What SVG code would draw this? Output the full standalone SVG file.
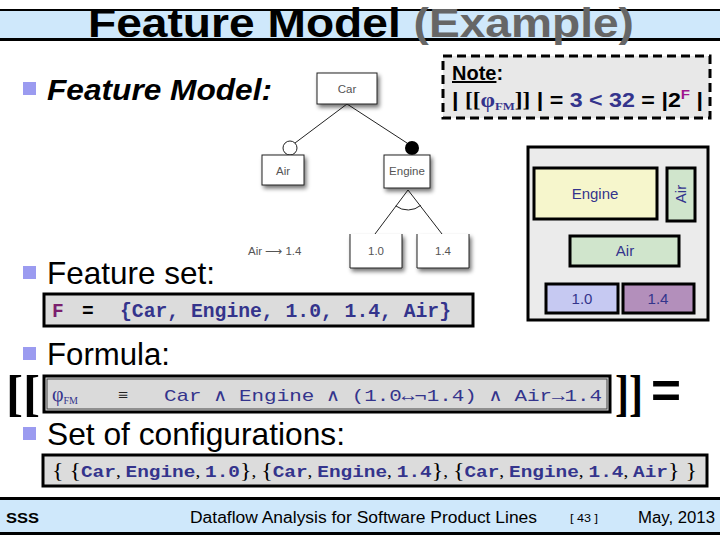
<svg xmlns="http://www.w3.org/2000/svg" width="720" height="540" viewBox="0 0 720 540">
<defs>
<style>
.sans{font-family:"Liberation Sans",Arial,sans-serif}
.mono{font-family:"Liberation Mono","Courier New",monospace;font-weight:bold}
.serif{font-family:"Liberation Serif","Times New Roman",serif}
.navy{fill:#34348c}
.bullet{fill:#9b9bf0}
.fmbox{fill:#ffffff;stroke:#222;stroke-width:1}
.fmtxt{font-family:"Liberation Sans",Arial,sans-serif;font-size:11.5px;fill:#555;text-anchor:middle}
.thick{stroke:#000;stroke-width:3}
.ven{font-family:"Liberation Sans",Arial,sans-serif;font-size:15px;fill:#34348c;text-anchor:middle}
</style>
<filter id="sh" x="-30%" y="-30%" width="170%" height="170%">
<feGaussianBlur in="SourceAlpha" stdDeviation="2"/>
<feOffset dx="2" dy="3" result="b"/>
<feComponentTransfer><feFuncA type="linear" slope="0.55"/></feComponentTransfer>
<feMerge><feMergeNode/><feMergeNode in="SourceGraphic"/></feMerge>
</filter>
</defs>
<rect width="720" height="540" fill="#ffffff"/>

<!-- title bar -->
<g id="title">
<rect x="0" y="10" width="720" height="29" fill="#cfe8fb"/>
<rect x="0" y="9" width="720" height="2" fill="#000"/>
<rect x="0" y="38" width="720" height="3" fill="#000"/>
<text x="361" y="37" class="sans" font-size="40" font-weight="bold" text-anchor="middle" textLength="546" lengthAdjust="spacingAndGlyphs"><tspan fill="#000">Feature Model </tspan><tspan fill="#666">(Example)</tspan></text>
</g>

<!-- bullets -->
<g id="bullets">
<rect class="bullet" x="23" y="82" width="13" height="13"/>
<text x="47" y="100" class="sans" font-size="30" font-weight="bold" font-style="italic" textLength="225" lengthAdjust="spacingAndGlyphs">Feature Model:</text>
<rect class="bullet" x="23" y="266" width="13" height="13"/>
<text x="47" y="284" class="sans" font-size="31.5" textLength="168" lengthAdjust="spacingAndGlyphs">Feature set:</text>
<rect class="bullet" x="23" y="347" width="13" height="13"/>
<text x="47" y="365" class="sans" font-size="31" textLength="123" lengthAdjust="spacingAndGlyphs">Formula:</text>
<rect class="bullet" x="23" y="427" width="13" height="13"/>
<text x="47" y="445" class="sans" font-size="31.5" textLength="298" lengthAdjust="spacingAndGlyphs">Set of configurations:</text>
</g>

<!-- feature model tree connectors -->
<g id="connectors" stroke="#222" stroke-width="1" fill="none">
<line x1="347" y1="104" x2="295" y2="143"/>
<line x1="347" y1="104" x2="407" y2="143"/>
<line x1="408" y1="190" x2="375" y2="234"/>
<line x1="408" y1="190" x2="442" y2="234"/>
<path d="M 395.8 205.9 A 20 20 0 0 0 420.8 205.3"/>
</g>

<g id="node-car">
<rect class="fmbox" x="317" y="73" width="60" height="31" filter="url(#sh)"/>
<text class="fmtxt" x="347" y="93">Car</text>
</g>
<g id="node-air">
<circle cx="290" cy="148" r="7" fill="#fff" stroke="#222" stroke-width="1"/>
<rect class="fmbox" x="262" y="155" width="42" height="30" filter="url(#sh)"/>
<text class="fmtxt" x="283" y="175">Air</text>
</g>
<g id="node-engine">
<circle cx="412" cy="148" r="7" fill="#000"/>
<rect class="fmbox" x="384" y="155" width="46" height="33" filter="url(#sh)"/>
<text class="fmtxt" x="407" y="175">Engine</text>
</g>
<g id="node-10">
<path d="M 350 234 V 268 H 402 V 234" fill="#fff" stroke="#222" stroke-width="1" filter="url(#sh)"/>
<text class="fmtxt" x="376" y="255">1.0</text>
</g>
<g id="node-14">
<path d="M 417 234 V 268 H 469 V 234" fill="#fff" stroke="#222" stroke-width="1" filter="url(#sh)"/>
<text class="fmtxt" x="443" y="255">1.4</text>
</g>
<g id="constraint">
<text class="sans" x="248" y="255" font-size="11.5" fill="#555">Air ⟶ 1.4</text>
</g>

<!-- note -->
<g id="note">
<rect x="443" y="56" width="267" height="62" fill="#e8e8e8" stroke="#000" stroke-width="3" stroke-dasharray="9 5"/>
<text x="452" y="80" class="sans" font-size="20" font-weight="bold"><tspan text-decoration="underline">Note</tspan>:</text>
<text x="452" y="107" class="sans" font-size="20" font-weight="bold" textLength="251" lengthAdjust="spacingAndGlyphs"><tspan>| </tspan><tspan class="serif">[[</tspan><tspan class="serif navy">φ</tspan><tspan class="serif navy" font-size="11" dy="3">FM</tspan><tspan class="serif" dy="-3">]]</tspan><tspan> | = </tspan><tspan class="navy">3 &lt; 32</tspan><tspan> = |2</tspan><tspan fill="#a0168f" font-size="13" dy="-8">F</tspan><tspan dy="8"> |</tspan></text>
</g>

<!-- venn-like diagram -->
<g id="venn">
<rect x="528" y="147" width="180" height="173" fill="#ebebeb" class="thick"/>
<g id="venn-engine">
<rect x="534" y="168" width="123" height="51" fill="#f6f6cc" class="thick"/>
<text class="ven" x="595" y="199">Engine</text>
</g>
<g id="venn-air-v">
<rect x="667" y="168" width="28" height="53" fill="#d0e5cc" class="thick"/>
<text class="ven" x="0" y="0" transform="translate(686 194) rotate(-90)">Air</text>
</g>
<g id="venn-air-h">
<rect x="570" y="236" width="109" height="30" fill="#d0e5cc" class="thick"/>
<text class="ven" x="625" y="256">Air</text>
</g>
<g id="venn-10">
<rect x="546" y="284" width="72" height="29" fill="#c6c9f2" class="thick"/>
<text class="ven" x="582" y="304">1.0</text>
</g>
<g id="venn-14">
<rect x="623" y="284" width="71" height="29" fill="#b38fbb" class="thick"/>
<text class="ven" x="658" y="304">1.4</text>
</g>
</g>

<!-- feature set -->
<g id="featureset">
<rect x="44" y="294" width="429" height="32" fill="#dcdcdc" class="thick"/>
<text x="52" y="317" class="mono" font-size="19.5" fill="#7b1f6e">F</text>
<text x="82" y="317" class="mono" font-size="19.5" fill="#000">=</text>
<text x="120" y="317" class="mono navy" font-size="19.5" textLength="331" lengthAdjust="spacingAndGlyphs">{Car, Engine, 1.0, 1.4, Air}</text>
</g>

<!-- formula -->
<g id="formula">
<text x="6" y="410" class="serif" font-size="50" font-weight="bold" textLength="34" lengthAdjust="spacingAndGlyphs">[[</text>
<rect x="44" y="376" width="566" height="36" fill="#dadada" class="thick"/>
<rect x="47" y="379" width="560" height="30" fill="none" stroke="#444" stroke-width="1"/>
<text x="52" y="401" class="serif navy" font-size="20">φ<tspan font-size="10" dy="3">FM</tspan></text>
<text x="118" y="401" class="serif" font-size="18" fill="#222">≡</text>
<text x="164" y="401" class="mono navy" font-size="17" font-weight="normal" style="font-weight:normal" textLength="438" lengthAdjust="spacingAndGlyphs">Car ∧ Engine ∧ (1.0↔¬1.4) ∧ Air→1.4</text>
<text x="615" y="410" class="serif" font-size="50" font-weight="bold" textLength="28" lengthAdjust="spacingAndGlyphs">]]</text>
<text x="651" y="408" class="sans" font-size="50" font-weight="bold" textLength="30" lengthAdjust="spacingAndGlyphs">=</text>
</g>

<!-- configurations -->
<g id="configs">
<rect x="43" y="455" width="664" height="31" fill="#dcdcdc" class="thick"/>
<text x="52" y="477" class="mono navy" font-size="17" textLength="645" lengthAdjust="spacingAndGlyphs"><tspan class="serif" font-weight="normal" fill="#000" font-size="21">{ {</tspan>Car<tspan class="serif" font-weight="normal" fill="#000">, </tspan>Engine<tspan class="serif" font-weight="normal" fill="#000">, </tspan>1.0<tspan class="serif" font-weight="normal" fill="#000" font-size="21">}</tspan><tspan class="serif" font-weight="normal" fill="#000">, </tspan><tspan class="serif" font-weight="normal" fill="#000" font-size="21">{</tspan>Car<tspan class="serif" font-weight="normal" fill="#000">, </tspan>Engine<tspan class="serif" font-weight="normal" fill="#000">, </tspan>1.4<tspan class="serif" font-weight="normal" fill="#000" font-size="21">}</tspan><tspan class="serif" font-weight="normal" fill="#000">, </tspan><tspan class="serif" font-weight="normal" fill="#000" font-size="21">{</tspan>Car<tspan class="serif" font-weight="normal" fill="#000">, </tspan>Engine<tspan class="serif" font-weight="normal" fill="#000">, </tspan>1.4<tspan class="serif" font-weight="normal" fill="#000">, </tspan>Air<tspan class="serif" font-weight="normal" fill="#000" font-size="21">} }</tspan></text>
</g>

<!-- footer -->
<g id="footer">
<rect x="0" y="499" width="720" height="33" fill="#cfe8fb"/>
<rect x="0" y="497" width="720" height="3" fill="#000"/>
<rect x="0" y="532" width="720" height="3" fill="#000"/>
<text x="6" y="523" class="sans" font-size="15" font-weight="bold" textLength="33" lengthAdjust="spacingAndGlyphs">SSS</text>
<text x="190" y="523" class="sans" font-size="16" textLength="347" lengthAdjust="spacingAndGlyphs">Dataflow Analysis for Software Product Lines</text>
<text x="570" y="522" class="sans" font-size="11" textLength="28" lengthAdjust="spacingAndGlyphs">[ 43 ]</text>
<text x="638" y="523" class="sans" font-size="16" textLength="77" lengthAdjust="spacingAndGlyphs">May, 2013</text>
</g>
</svg>
